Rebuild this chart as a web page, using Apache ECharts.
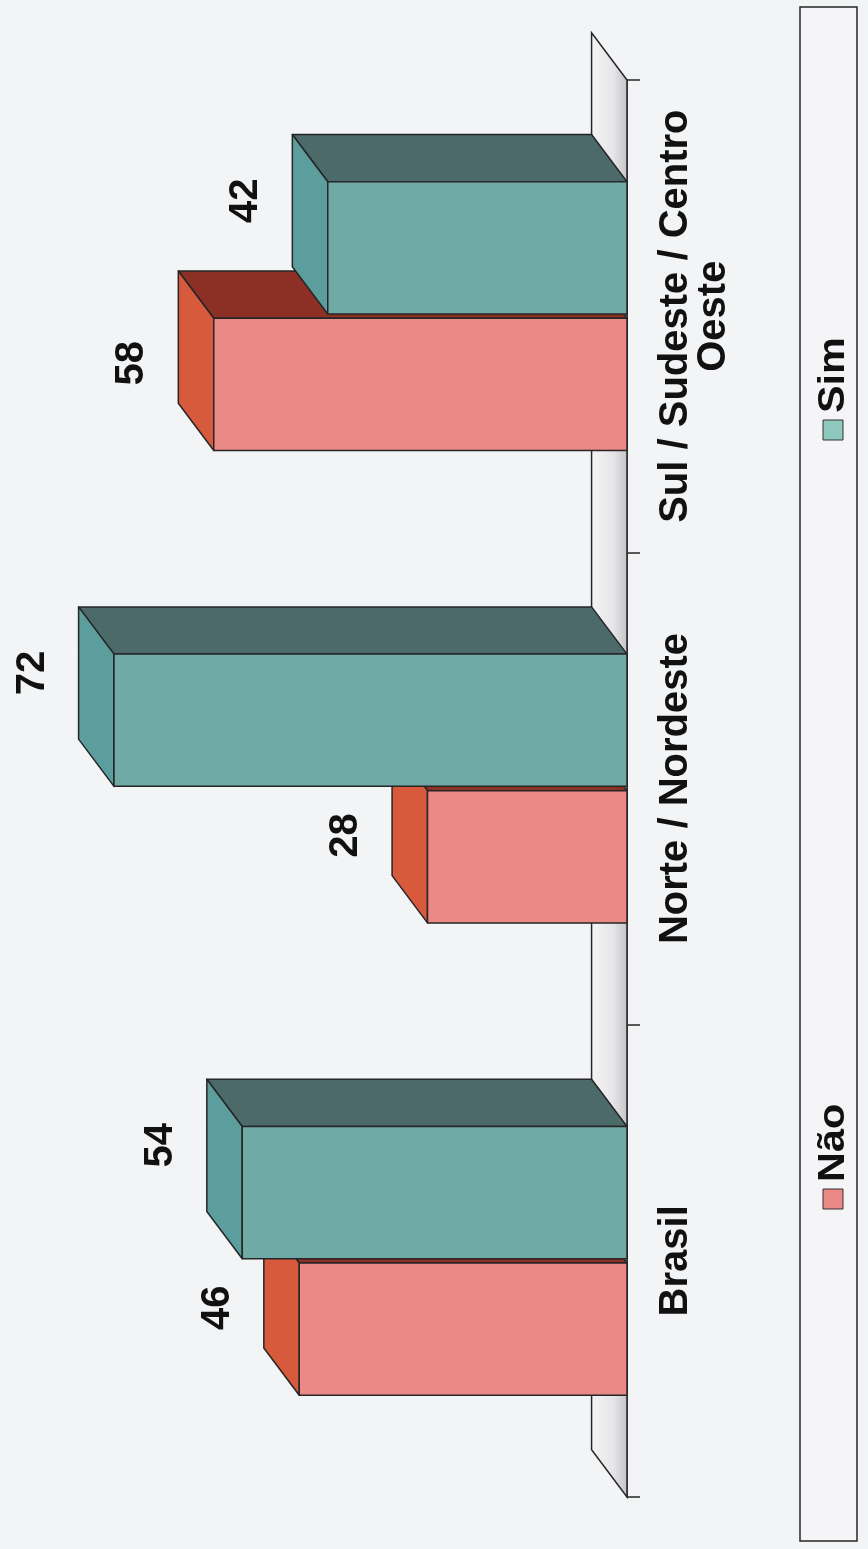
<!DOCTYPE html>
<html>
<head>
<meta charset="utf-8">
<script src="https://cdn.jsdelivr.net/npm/echarts@6/dist/echarts.min.js"></script>
<style>
  html, body { margin: 0; padding: 0; background: #f3f4f6; }
  #chart { width: 868px; height: 1549px; }
</style>
</head>
<body>
<div id="chart"></div>
<script>
// ---- data ----
const categories = ['Brasil', 'Norte / Nordeste', 'Sul / Sudeste / Centro\nOeste'];
const naoValues = [46, 28, 58];
const simValues = [54, 72, 42];
const seriesNames = ['Não', 'Sim'];
const valueMin = 0;
const valueMax = 80;

// ---- styles ----
const FONT = '"Liberation Sans", Arial, Helvetica, sans-serif';
const STROKE = '#262626';
const palette = {
  'Não': { front: '#ea8985', left: '#d85a3c', side: '#8c2f24' },
  'Sim': { front: '#70aaa6', left: '#5c9e9d', side: '#4b6a69' }
};

const chart = echarts.init(document.getElementById('chart'), null, { renderer: 'canvas' });

function depth(api) {
  const band = api.size([0, 1])[1];
  return { band: band, dx: -band * 0.075, dy: -band * 0.1 };
}

function barRenderer(name, below, labelShift) {
  const col = palette[name];
  return function (params, api) {
    const v = api.value(0);
    const c = api.value(1);
    const base = api.coord([0, c]);
    const tip = api.coord([v, c]);
    const d = depth(api);
    const bw = d.band * 0.28;
    const gap = d.band * 0.0045;
    let yTop, yBot;
    if (below) { yTop = base[1] + gap; yBot = yTop + bw; }
    else { yBot = base[1] - gap; yTop = yBot - bw; }
    const xL = tip[0], xR = base[0];
    const dx = d.dx, dy = d.dy;
    const lineStyle = { stroke: STROKE, lineWidth: 1.5, lineJoin: 'round' };
    return {
      type: 'group',
      children: [
        { type: 'polygon', shape: { points: [[xL, yTop], [xR, yTop], [xR + dx, yTop + dy], [xL + dx, yTop + dy]] },
          style: Object.assign({ fill: col.side }, lineStyle) },
        { type: 'polygon', shape: { points: [[xL, yTop], [xL + dx, yTop + dy], [xL + dx, yBot + dy], [xL, yBot]] },
          style: Object.assign({ fill: col.left }, lineStyle) },
        { type: 'rect', shape: { x: xL, y: yTop, width: xR - xL, height: yBot - yTop },
          style: Object.assign({ fill: col.front }, lineStyle) },
        { type: 'text', x: xL + dx - 26, y: (yTop + yBot) / 2 + dy * labelShift, rotation: Math.PI / 2,
          style: { text: String(v), font: 'bold 40px ' + FONT, fill: '#111', align: 'center', verticalAlign: 'bottom' } }
      ]
    };
  };
}

function floorRenderer(params, api) {
  const cs = params.coordSys;
  const d = depth(api);
  const xF = cs.x + cs.width, yT = cs.y, yB = cs.y + cs.height;
  return {
    type: 'polygon',
    shape: { points: [[xF, yT], [xF + d.dx, yT + d.dy], [xF + d.dx, yB + d.dy], [xF, yB]] },
    style: {
      fill: new echarts.graphic.LinearGradient(0, 0, 1, 0, [
        { offset: 0, color: '#f4f4f4' }, { offset: 0.6, color: '#e6e6e8' }, { offset: 1, color: '#c4c4c6' }
      ]),
      stroke: STROKE, lineWidth: 1.5
    }
  };
}

const option = {
  backgroundColor: '#f3f4f6',
  animation: false,
  grid: { left: 57, right: 241, top: 80, bottom: 52 },
  xAxis: {
    type: 'value', inverse: true, min: valueMin, max: valueMax,
    show: false, splitLine: { show: false }
  },
  yAxis: {
    type: 'category', data: categories, position: 'right',
    axisLine: { show: true, lineStyle: { color: STROKE, width: 1.5 } },
    axisTick: { show: true, length: 13, lineStyle: { color: STROKE, width: 1.5 } },
    axisLabel: {
      interval: 0, rotate: 90, margin: 30, color: '#111', fontSize: 40, fontWeight: 'bold',
      fontFamily: FONT, lineHeight: 38, align: 'center', hideOverlap: false
    },
    splitLine: { show: false }
  },
  series: [
    { type: 'custom', name: 'floor', z: 1, silent: true, renderItem: floorRenderer, data: [[0, 0]], encode: { x: 0, y: 1 } },
    { type: 'custom', name: seriesNames[0], z: 2, renderItem: barRenderer(seriesNames[0], true, 0.45),
      data: naoValues.map((v, i) => [v, i]), encode: { x: 0, y: 1 } },
    { type: 'custom', name: seriesNames[1], z: 3, renderItem: barRenderer(seriesNames[1], false, 1.0),
      data: simValues.map((v, i) => [v, i]), encode: { x: 0, y: 1 } }
  ],
  graphic: [
    { type: 'rect', shape: { x: 800, y: 7, width: 57, height: 1534 },
      style: { fill: '#f5f5f7', stroke: STROKE, lineWidth: 1.5 }, z: 10 },
    { type: 'rect', shape: { x: 823, y: 1189, width: 20, height: 20 },
      style: { fill: palette['Não'].front, stroke: '#333', lineWidth: 1 }, z: 11 },
    { type: 'text', x: 834, y: 1182, rotation: Math.PI / 2, scaleX: 1.15, z: 11,
      style: { text: seriesNames[0], font: 'bold 36px ' + FONT, fill: '#111', align: 'left', verticalAlign: 'middle' } },
    { type: 'rect', shape: { x: 823, y: 420, width: 20, height: 20 },
      style: { fill: '#8fc8bd', stroke: '#333', lineWidth: 1 }, z: 11 },
    { type: 'text', x: 834, y: 413, rotation: Math.PI / 2, scaleX: 1.15, z: 11,
      style: { text: seriesNames[1], font: 'bold 36px ' + FONT, fill: '#111', align: 'left', verticalAlign: 'middle' } }
  ]
};
chart.setOption(option);
</script>
</body>
</html>
